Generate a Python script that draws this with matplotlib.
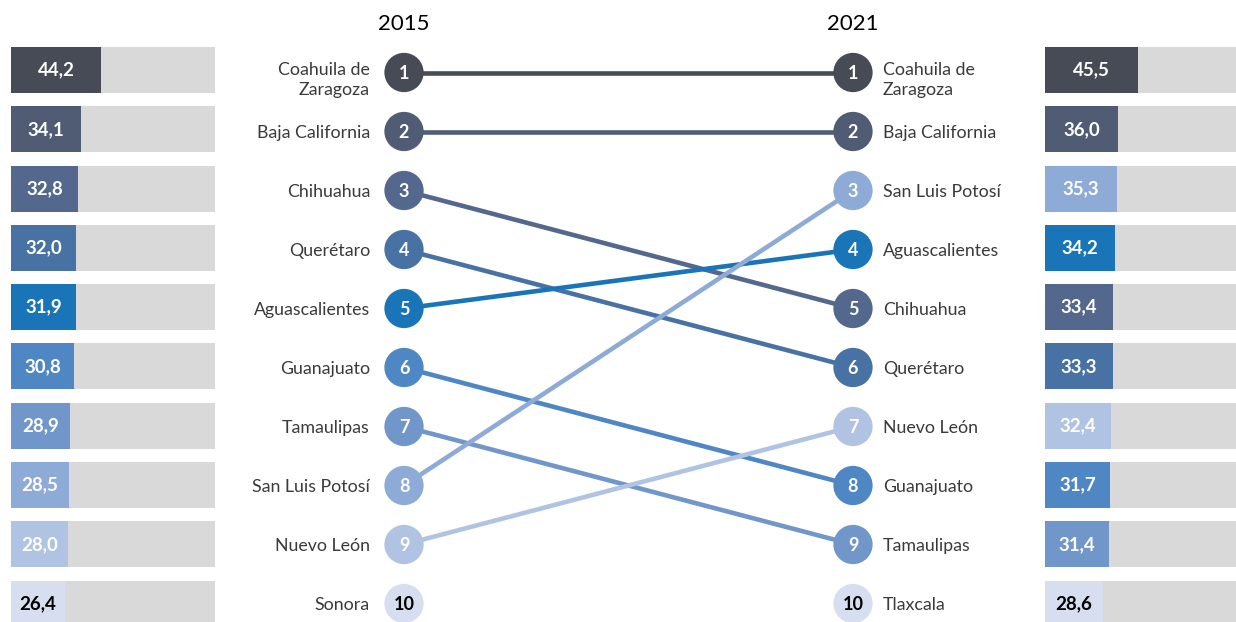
import matplotlib.pyplot as plt

plt.rcParams['font.family'] = ['Lato', 'DejaVu Sans']

# ranking data
states_2015 = ["Coahuila de\nZaragoza", "Baja California", "Chihuahua", "Querétaro",
               "Aguascalientes", "Guanajuato", "Tamaulipas", "San Luis Potosí",
               "Nuevo León", "Sonora"]
values_2015 = [44.2, 34.1, 32.8, 32.0, 31.9, 30.8, 28.9, 28.5, 28.0, 26.4]

states_2021 = ["Coahuila de\nZaragoza", "Baja California", "San Luis Potosí", "Aguascalientes",
               "Chihuahua", "Querétaro", "Nuevo León", "Guanajuato",
               "Tamaulipas", "Tlaxcala"]
values_2021 = [45.5, 36.0, 35.3, 34.2, 33.4, 33.3, 32.4, 31.7, 31.4, 28.6]

# colour per state
state_colors = {
    "Coahuila de\nZaragoza": "#474b56",
    "Baja California": "#4f5c74",
    "Chihuahua": "#53688c",
    "Querétaro": "#4872a3",
    "Aguascalientes": "#1a75b8",
    "Guanajuato": "#4f86c4",
    "Tamaulipas": "#7096ca",
    "San Luis Potosí": "#8eaad6",
    "Nuevo León": "#b0c3e2",
    "Sonora": "#d7def0",
    "Tlaxcala": "#d7def0",
}
light_states = ["Sonora", "Tlaxcala"]

W, H = 1236, 622
fig = plt.figure(figsize=(W / 100, H / 100), dpi=100)
ranks = list(range(1, 11))


def ylims(row0, pitch):
    return 10 + (H - (row0 + 9 * pitch)) / pitch, 1 - row0 / pitch


# slope part
c_row0, c_pitch = 72.5, 59.0
ax = fig.add_axes([0, 0, 1, 1])
ax.set_xlim(0, W)
ax.set_ylim(*ylims(c_row0, c_pitch))
ax.axis('off')

x_left, x_right = 404, 853

for i, st in enumerate(states_2015):
    if st in states_2021:
        j = states_2021.index(st)
        ax.plot([x_left, x_right], [ranks[i], ranks[j]], color=state_colors[st],
                lw=3.3, solid_capstyle='butt', zorder=1)

for x, states, side in [(x_left, states_2015, 'L'), (x_right, states_2021, 'R')]:
    cols = [state_colors[s] for s in states]
    ax.scatter([x] * 10, ranks, s=800, c=cols, zorder=3, linewidths=0)
    for r, st in zip(ranks, states):
        tc = 'black' if st in light_states else 'white'
        ax.text(x, r + 0.01, str(r), ha='center', va='center', color=tc,
                fontsize=13, fontweight='bold', zorder=4)
        ty = r + (0.12 if '\n' in st else 0.03)
        if side == 'L':
            ax.text(x - 34, ty, st, ha='right', va='center', color='#3a3a3a',
                    fontsize=12.8, linespacing=1.3)
        else:
            ax.text(x + 30, ty, st, ha='left', va='center', color='#3a3a3a',
                    fontsize=12.8, linespacing=1.3)

ytop = 1 - c_row0 / c_pitch
ax.text(x_left, ytop + 24 / c_pitch, "2015", ha='center', va='center', fontsize=16, color='black')
ax.text(x_right, ytop + 24 / c_pitch, "2021", ha='center', va='center', fontsize=16, color='black')

# bar panels
b_row0, b_pitch = 70, 59.3
bar_w = 204
for x0, states, vals in [(11, states_2015, values_2015), (1045, states_2021, values_2021)]:
    bx = fig.add_axes([x0 / W, 0, bar_w / W, 1])
    bx.set_xlim(0, 100)
    bx.set_ylim(*ylims(b_row0, b_pitch))
    bx.axis('off')
    bx.barh(ranks, [100] * 10, height=46 / b_pitch, color='#d9d9d9', zorder=1)
    cols = [state_colors[s] for s in states]
    bx.barh(ranks, vals, height=46 / b_pitch, color=cols, zorder=2)
    for r, st, v in zip(ranks, states, vals):
        tc = 'black' if st in light_states else 'white'
        bx.text(v / 2, r, f"{v:.1f}".replace('.', ','), ha='center', va='center',
                color=tc, fontsize=13.5, fontweight='bold', zorder=3)

fig.savefig('out.png', dpi=100)
